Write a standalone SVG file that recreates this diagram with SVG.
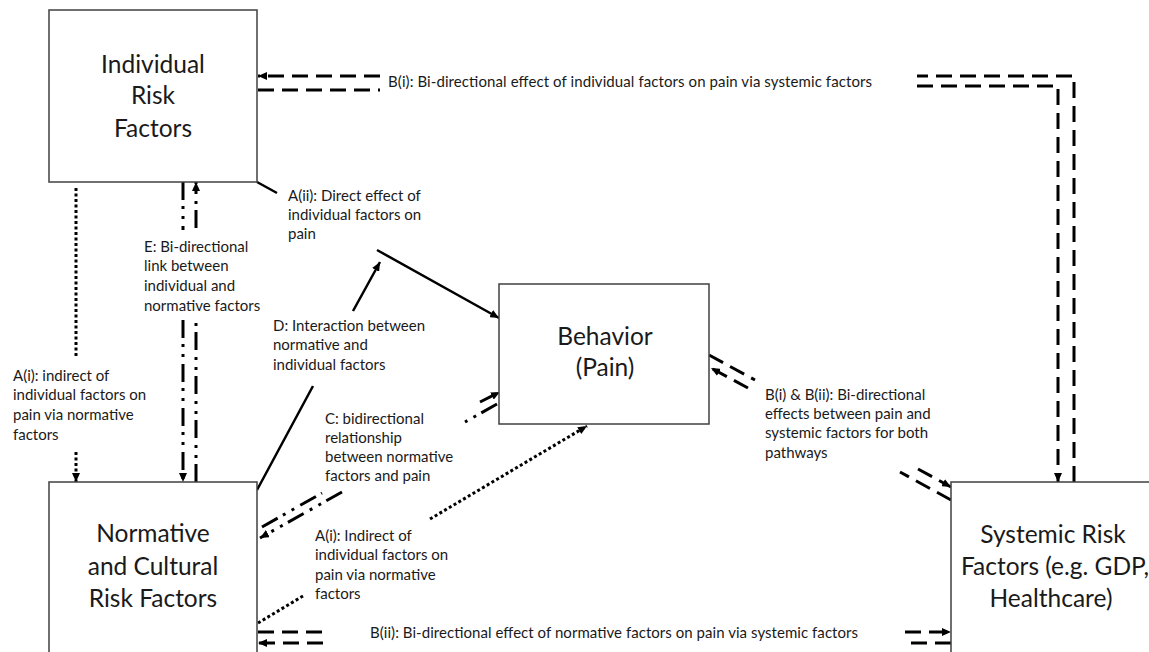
<svg xmlns="http://www.w3.org/2000/svg" width="1149" height="652" viewBox="0 0 1149 652">
<style>
.box{fill:#fff;stroke:#404040;stroke-width:1.5}
.big{font-family:Lato,"Liberation Sans",sans-serif;font-size:24.5px;fill:#1a1a1a;text-anchor:middle}
.lbl{font-family:Lato,"Liberation Sans",sans-serif;font-size:15px;fill:#1a1a1a}
.sm{font-family:Lato,"Liberation Sans",sans-serif;font-size:15px;fill:#1a1a1a}
.c{fill:none;stroke:#000}
.solid{stroke-width:2.5}
.dash{stroke-width:3;stroke-dasharray:16 8}
.dot{stroke-width:3;stroke-dasharray:3 2.5}
.dd{stroke-width:3;stroke-dasharray:18 6 3 7 3 7}
</style>
<defs>
<marker id="ah" markerUnits="userSpaceOnUse" viewBox="0 0 9 8" markerWidth="9" markerHeight="8" refX="9" refY="4" orient="auto">
<path d="M0,0 L9,4 L0,8 z" fill="#000"/>
</marker>
</defs>
<rect width="1149" height="652" fill="#fff"/>
<g id="connectors">
<path class="c dash" d="M1074,482 V76 H917 M380,76 H258" marker-end="url(#ah)"/>
<path class="c dash" d="M258,90 H380 M917,86 H1058 V482" marker-end="url(#ah)"/>
<path class="c dash" d="M258,632 H322 M905,632 H951" marker-end="url(#ah)"/>
<path class="c dash" d="M951,643 H905 M323,643 H258" marker-end="url(#ah)"/>
<path class="c dd" d="M183,182 V230 M183,320 V482" marker-end="url(#ah)"/>
<path class="c dd" d="M196,482 V320 M196,228 V182" marker-end="url(#ah)"/>
<path class="c dot" d="M76,188 V357 M76,452 V482" marker-end="url(#ah)"/>
<path class="c solid" d="M257,182 L277,193 M377,250 L499,318" marker-end="url(#ah)"/>
<path class="c solid" d="M257,490 L313,386 M353,311 L380,262" marker-end="url(#ah)"/>
<path class="c dd" d="M262,527 L322,493 M480,402 L500,392" marker-end="url(#ah)"/>
<path class="c dd" d="M497,404 L465,422 M342,492 L260,538" marker-end="url(#ah)"/>
<path class="c dot" d="M258,623 L303,596 M430,519 L587,426" marker-end="url(#ah)"/>
<path class="c dash" d="M709,355 L755,380 M918,469 L951,487" marker-end="url(#ah)"/>
<path class="c dash" d="M951,500 L900,472 M748,388 L711,368" marker-end="url(#ah)"/>
</g>
<g id="individual">
<rect class="box" x="49" y="10" width="208" height="172"/>
<text class="big" x="153" y="73">Individual</text>
<text class="big" x="153" y="104">Risk</text>
<text class="big" x="153" y="137">Factors</text>
</g>
<g id="normative">
<rect class="box" x="49" y="482" width="208" height="200"/>
<text class="big" x="153" y="542">Normative</text>
<text class="big" x="153" y="575">and Cultural</text>
<text class="big" x="153" y="607">Risk Factors</text>
</g>
<g id="behavior">
<rect class="box" x="499" y="284" width="210" height="140"/>
<text class="big" x="605" y="345">Behavior</text>
<text class="big" x="605" y="376">(Pain)</text>
</g>
<g id="systemic">
<rect class="box" x="951" y="482" width="230" height="200"/>
<text class="big" x="1053" y="543">Systemic Risk</text>
<text class="big" x="1055" y="575">Factors (e.g. GDP,</text>
<text class="big" x="1051" y="607">Healthcare)</text>
</g>
<g id="labels">
<text class="sm" x="388" y="87" textLength="484">B(i): Bi-directional effect of individual factors on pain via systemic factors</text>
<text class="sm" x="370" y="638" textLength="488">B(ii): Bi-directional effect of normative factors on pain via systemic factors</text>
<text class="lbl"><tspan x="288" y="201">A(ii): Direct effect of</tspan><tspan x="288" y="220">individual factors on</tspan><tspan x="288" y="239">pain</tspan></text>
<text class="lbl"><tspan x="144" y="252">E: Bi-directional</tspan><tspan x="144" y="271">link between</tspan><tspan x="144" y="291">individual and</tspan><tspan x="144" y="311">normative factors</tspan></text>
<text class="lbl"><tspan x="13" y="381">A(i): indirect of</tspan><tspan x="13" y="400">individual factors on</tspan><tspan x="13" y="420">pain via normative</tspan><tspan x="13" y="440">factors</tspan></text>
<text class="lbl"><tspan x="273" y="331">D: Interaction between</tspan><tspan x="273" y="350">normative and</tspan><tspan x="273" y="370">individual factors</tspan></text>
<text class="lbl"><tspan x="325" y="424">C: bidirectional</tspan><tspan x="325" y="443">relationship</tspan><tspan x="325" y="462">between normative</tspan><tspan x="325" y="481">factors and pain</tspan></text>
<text class="lbl"><tspan x="315" y="541">A(i): Indirect of</tspan><tspan x="315" y="560">individual factors on</tspan><tspan x="315" y="580">pain via normative</tspan><tspan x="315" y="599">factors</tspan></text>
<text class="lbl"><tspan x="765" y="400">B(i) &amp; B(ii): Bi-directional</tspan><tspan x="765" y="419">effects between pain and</tspan><tspan x="765" y="438">systemic factors for both</tspan><tspan x="765" y="458">pathways</tspan></text>
</g>
</svg>
